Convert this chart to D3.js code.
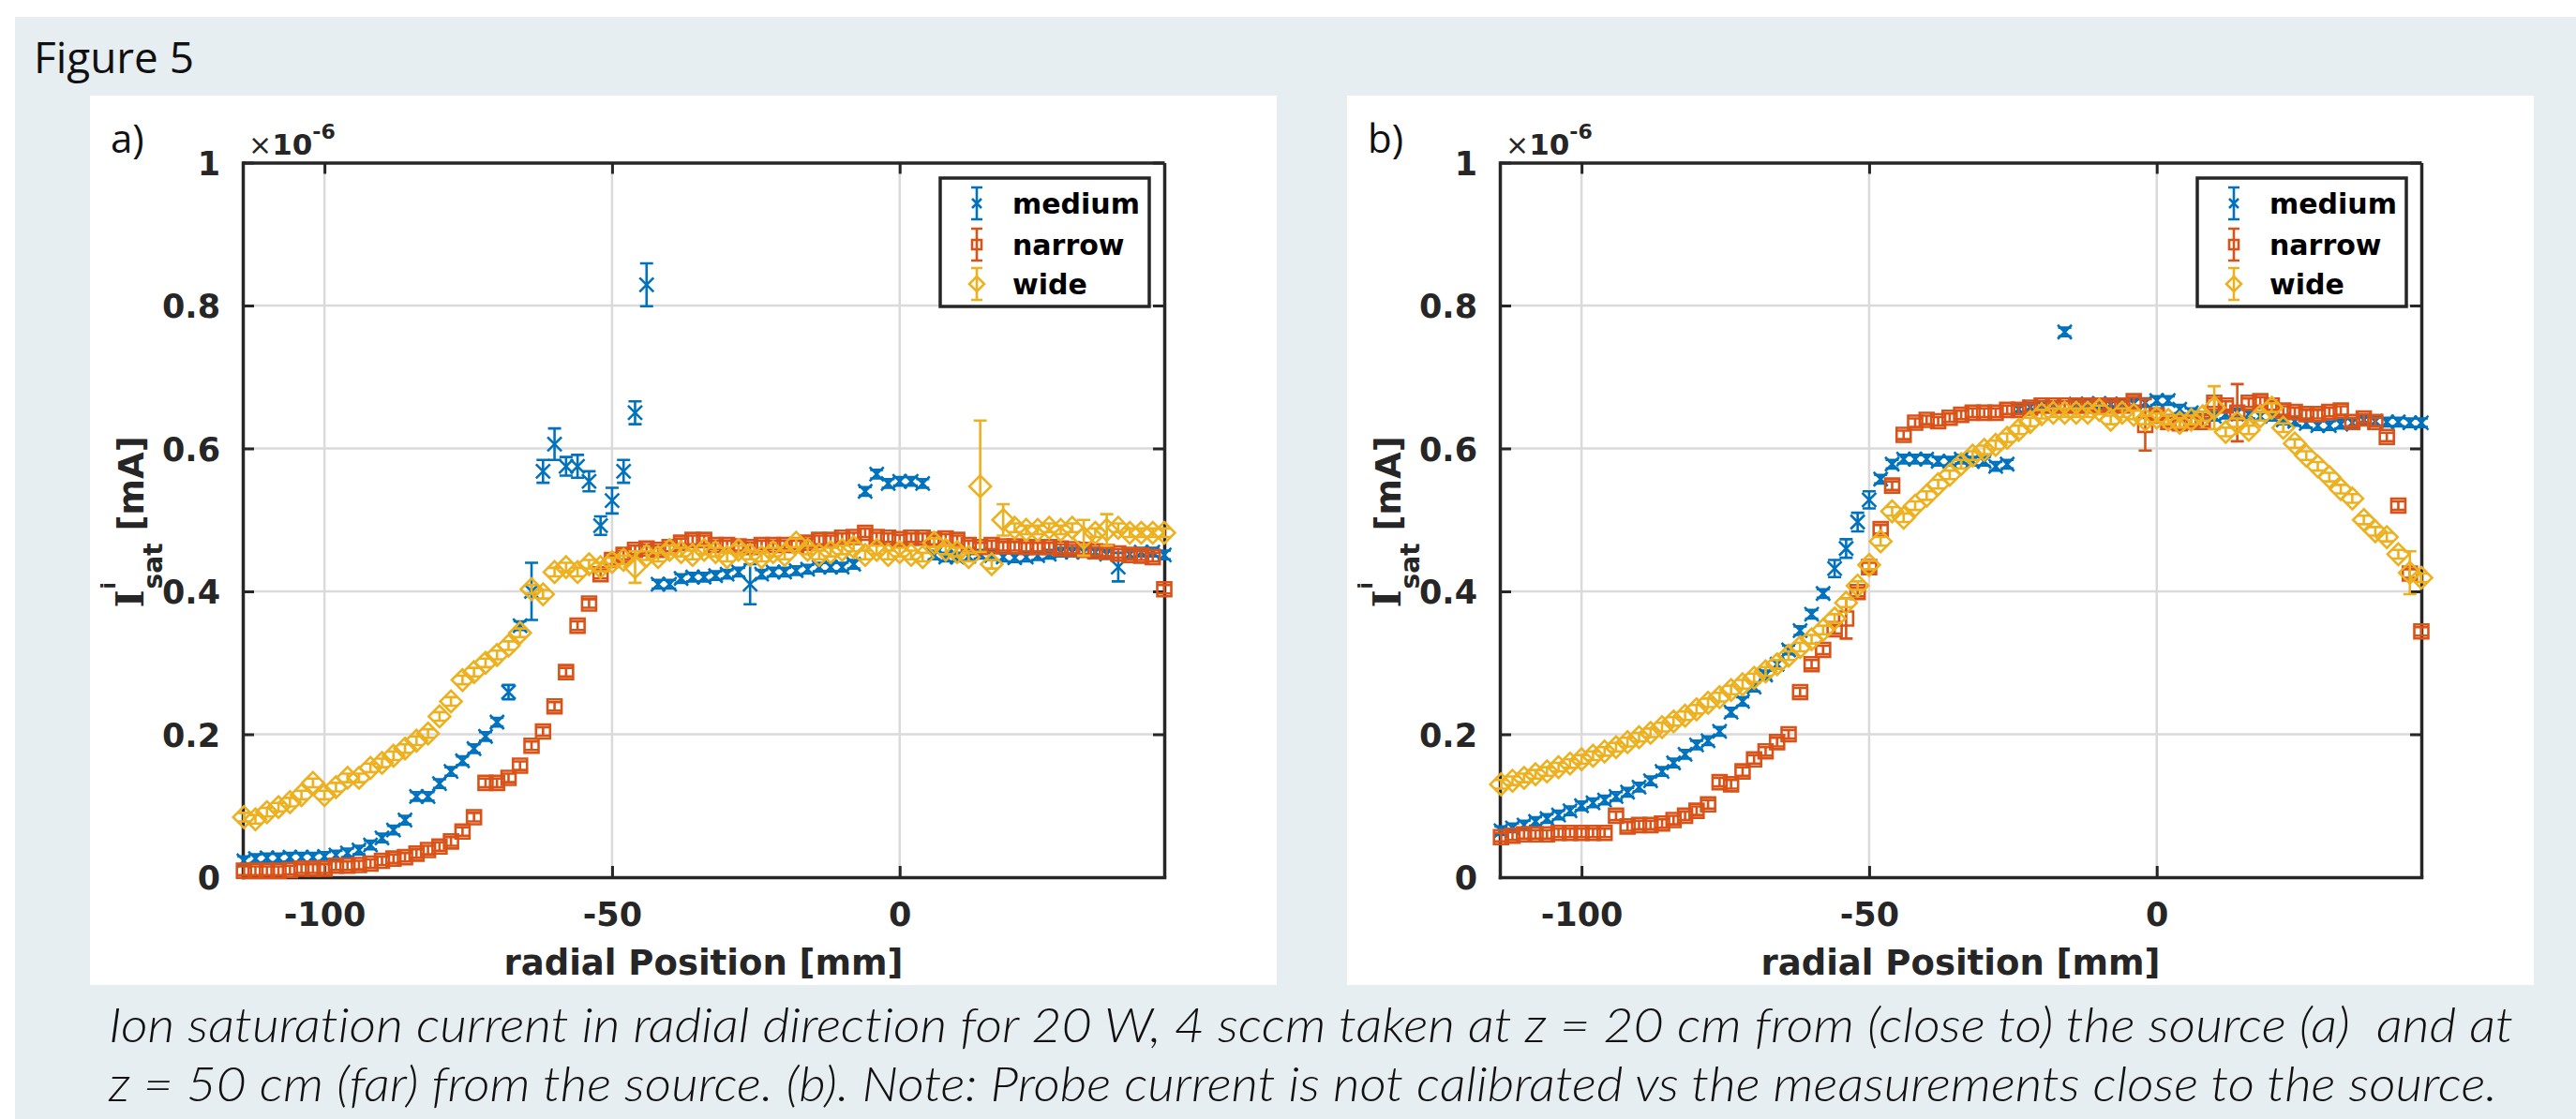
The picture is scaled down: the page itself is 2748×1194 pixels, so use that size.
<!DOCTYPE html>
<html><head><meta charset="utf-8">
<script src="https://cdn.jsdelivr.net/npm/d3@7"></script>
<style>body{margin:0;background:#fff} svg{display:block} text{white-space:pre; font-variant-ligatures:none; font-feature-settings:"liga" 0, "clig" 0, "dlig" 0}</style>
</head><body>
<svg id="chart" width="2748" height="1194"></svg>
<script>
// ---------- data ----------
const positions = [-114,-112,-110,-108,-106,-104,-102,-100,-98,-96,-94,-92,-90,-88,-86,-84,-82,-80,-78,-76,-74,-72,-70,-68,-66,-64,-62,-60,-58,-56,-54,-52,-50,-48,-46,-44,-42,-40,-38,-36,-34,-32,-30,-28,-26,-24,-22,-20,-18,-16,-14,-12,-10,-8,-6,-4,-2,0,2,4,6,8,10,12,14,16,18,20,22,24,26,28,30,32,34,36,38,40,42,44,46];
const seriesNames = ["medium", "narrow", "wide"];
const seriesColors = ["#0072BD", "#D95319", "#EDB120"];
const yTicks = [0, 0.2, 0.4, 0.6, 0.8, 1];
const yTickLabels = ["0", "0.2", "0.4", "0.6", "0.8", "1"];
const xTicks = [-100, -50, 0];
const xTickLabels = ["-100", "-50", "0"];

// panel a (z = 20 cm), values in 1e-6 A
const aMedium = [0.023,0.026,0.027,0.027,0.028,0.028,0.028,0.029, 0.031,0.034,0.038,0.045,0.055,0.066,0.080,0.113, 0.113,0.131,0.148,0.163,0.180,0.197,0.217,0.259, 0.352,0.400,0.568,0.606,0.575,0.575,0.554,0.492, 0.527,0.568,0.650,0.829,0.410,0.410,0.418,0.420, 0.420,0.422,0.424,0.427,0.410,0.424,0.427,0.427, 0.429,0.431,0.434,0.434,0.434,0.438,0.540,0.564, 0.551,0.554,0.554,0.551,0.451,0.448,0.448,0.449, 0.452,0.450,0.448,0.447,0.448,0.450,0.452,0.455, 0.455,0.455,0.455,0.452,0.434,0.452,0.455,0.455, 0.451];
const aNarrow = [0.009,0.009,0.009,0.009,0.010,0.012,0.012,0.012, 0.016,0.016,0.017,0.019,0.023,0.026,0.028,0.033, 0.038,0.043,0.050,0.064,0.084,0.132,0.132,0.139, 0.156,0.184,0.204,0.239,0.287,0.352,0.383,0.424, 0.444,0.451,0.458,0.460,0.458,0.462,0.468,0.472, 0.472,0.465,0.465,0.463,0.462,0.465,0.465,0.465, 0.465,0.468,0.472,0.472,0.475,0.476,0.482,0.476, 0.475,0.473,0.475,0.475,0.472,0.474,0.472,0.465, 0.462,0.465,0.463,0.463,0.462,0.462,0.462,0.460, 0.459,0.458,0.456,0.455,0.453,0.451,0.450,0.448, 0.403];
const aWide = [0.084,0.081,0.091,0.098,0.105,0.115,0.132,0.115, 0.126,0.139,0.139,0.153,0.160,0.170,0.180,0.191, 0.201,0.225,0.246,0.276,0.287,0.300,0.311,0.324, 0.342,0.403,0.396,0.427,0.434,0.427,0.438,0.434, 0.441,0.444,0.434,0.450,0.448,0.458,0.455,0.451, 0.458,0.455,0.448,0.458,0.451,0.448,0.455,0.451, 0.468,0.458,0.451,0.455,0.458,0.462,0.451,0.458, 0.451,0.455,0.451,0.448,0.468,0.458,0.455,0.448, 0.547,0.438,0.500,0.489,0.486,0.486,0.489,0.486, 0.489,0.475,0.482,0.486,0.489,0.482,0.482,0.482, 0.482];

// panel b (z = 50 cm)
const bMedium = [0.065,0.069,0.073,0.078,0.082,0.087,0.093,0.100, 0.104,0.108,0.113,0.119,0.126,0.135,0.148,0.160, 0.172,0.185,0.191,0.204,0.231,0.246,0.266,0.283, 0.298,0.318,0.345,0.368,0.397,0.432,0.460,0.497, 0.528,0.557,0.578,0.585,0.585,0.585,0.582,0.582, 0.585,0.582,0.582,0.575,0.578,0.655,0.658,0.660, 0.660,0.763,0.662,0.662,0.663,0.662,0.662,0.663, 0.664,0.667,0.667,0.655,0.650,0.645,0.645,0.648, 0.650,0.648,0.645,0.645,0.640,0.638,0.635,0.632, 0.632,0.634,0.636,0.640,0.638,0.637,0.637,0.636, 0.636];
const bNarrow = [0.056,0.058,0.060,0.060,0.060,0.062,0.062,0.062, 0.062,0.062,0.086,0.071,0.073,0.073,0.075,0.080, 0.086,0.093,0.102,0.133,0.130,0.148,0.165,0.176, 0.189,0.200,0.259,0.298,0.318,0.347,0.362,0.399, 0.434,0.487,0.548,0.619,0.636,0.640,0.638,0.643, 0.647,0.650,0.650,0.650,0.654,0.654,0.657,0.660, 0.660,0.660,0.660,0.660,0.660,0.660,0.660,0.666, 0.633,0.646,0.637,0.635,0.637,0.637,0.664,0.660, 0.650,0.664,0.666,0.660,0.653,0.651,0.648,0.648, 0.651,0.653,0.637,0.642,0.637,0.616,0.520,0.425, 0.344];
const bWide = [0.130,0.135,0.139,0.144,0.148,0.154,0.159,0.165, 0.170,0.176,0.182,0.189,0.196,0.202,0.210,0.218, 0.226,0.235,0.244,0.252,0.262,0.270,0.279,0.288, 0.298,0.310,0.322,0.333,0.346,0.362,0.384,0.408, 0.437,0.470,0.512,0.503,0.520,0.534,0.550,0.563, 0.578,0.590,0.598,0.605,0.615,0.626,0.637,0.648, 0.650,0.650,0.650,0.650,0.654,0.640,0.650,0.647, 0.640,0.643,0.640,0.636,0.640,0.645,0.657,0.623, 0.636,0.626,0.645,0.657,0.629,0.607,0.590,0.575, 0.560,0.543,0.530,0.500,0.484,0.476,0.452,0.426, 0.419];

// error bars (half-widths); points not listed use defaultErr
const defaultErr = 0.006;
const aMediumErr = {"-68":0.010,"-64":0.040,"-62":0.016,"-60":0.022,"-58":0.013,"-56":0.016,"-54":0.014,"-52":0.013,"-50":0.018,"-48":0.016,"-46":0.016,"-44":0.030,"-26":0.028,"38":0.020};
const aNarrowErr = {};
const aWideErr = {"-46":0.022,"14":0.092,"18":0.022,"32":0.025,"36":0.022};
const bMediumErr = {"-56":0.012,"-54":0.013,"-52":0.013,"-50":0.012};
const bNarrowErr = {"-54":0.028,"-2":0.036,"14":0.040};
const bWideErr = {"10":0.030,"44":0.030};

const panels = [
  {label: "a)", dx: 0, series: [[aMedium, aMediumErr], [aNarrow, aNarrowErr], [aWide, aWideErr]]},
  {label: "b)", dx: 1341, series: [[bMedium, bMediumErr], [bNarrow, bNarrowErr], [bWide, bWideErr]]}
];

// ---------- drawing ----------
const svg = d3.select("#chart");
const AX = "#262626";
const FONT = "DejaVu Sans";

svg.append("rect").attr("x", 16).attr("y", 18).attr("width", 2748 - 16).attr("height", 1194 - 18).attr("fill", "#e7eef1");

svg.append("text").attr("x", 36).attr("y", 78).attr("font-family", "Open Sans").attr("font-size", 46)
  .attr("fill", "#111").attr("textLength", 171).attr("lengthAdjust", "spacingAndGlyphs").text("Figure 5");

function markerPath(type, s) {
  if (type === 0) return `M${-s},${-s}L${s},${s}M${-s},${s}L${s},${-s}`;
  if (type === 1) return `M${-s},${-s}H${s}V${s}H${-s}Z`;
  return `M0,${-s}L${s},0L0,${s}L${-s},0Z`;
}
const markerSize = [7.5, 7.5, 11.5];

panels.forEach(p => {
  const dx = p.dx;
  svg.append("rect").attr("x", 96 + dx).attr("y", 102).attr("width", 1266).attr("height", 949).attr("fill", "#fff");
  svg.append("text").attr("x", 118 + dx).attr("y", 163).attr("font-family", "Open Sans").attr("font-size", 42)
    .attr("fill", "#111").text(p.label);

  const x = d3.scaleLinear().domain([-114.2, 46]).range([259 + dx, 1242 + dx]);
  const y = d3.scaleLinear().domain([0, 1]).range([936, 173.5]);
  const g = svg.append("g");

  // grid
  g.selectAll(".gx").data(xTicks).join("line").attr("x1", d => x(d)).attr("x2", d => x(d))
    .attr("y1", y(0)).attr("y2", y(1)).attr("stroke", "#dadada").attr("stroke-width", 2.5);
  g.selectAll(".gy").data(yTicks.slice(1, -1)).join("line").attr("y1", d => y(d)).attr("y2", d => y(d))
    .attr("x1", x.range()[0]).attr("x2", x.range()[1]).attr("stroke", "#dadada").attr("stroke-width", 2.5);

  // axes with d3 axis generators (inward ticks)
  const tl = 12;
  const bottom = g.append("g").attr("transform", `translate(0,${y(0)})`)
    .call(d3.axisBottom(x).tickValues(xTicks).tickFormat((d, i) => xTickLabels[i]).tickSizeInner(-tl).tickSizeOuter(0).tickPadding(30));
  const top = g.append("g").attr("transform", `translate(0,${y(1)})`)
    .call(d3.axisTop(x).tickValues(xTicks).tickFormat("").tickSizeInner(-tl).tickSizeOuter(0));
  const left = g.append("g").attr("transform", `translate(${x.range()[0]},0)`)
    .call(d3.axisLeft(y).tickValues(yTicks).tickFormat((d, i) => yTickLabels[i]).tickSizeInner(-tl).tickSizeOuter(0).tickPadding(24));
  const right = g.append("g").attr("transform", `translate(${x.range()[1]},0)`)
    .call(d3.axisRight(y).tickValues(yTicks).tickFormat("").tickSizeInner(-tl).tickSizeOuter(0));
  top.selectAll(".tick text").remove();
  right.selectAll(".tick text").remove();
  [bottom, top, left, right].forEach(a => {
    a.select(".domain").attr("stroke", AX).attr("stroke-width", 3.5);
    a.selectAll(".tick line").attr("stroke", AX).attr("stroke-width", 3);
    a.selectAll(".tick text").attr("fill", AX).attr("font-family", FONT).attr("font-weight", "bold").attr("font-size", 35);
  });
  bottom.selectAll(".tick text").attr("dy", 0).attr("y", 52);
  left.selectAll(".tick text").attr("dy", "0.36em");
  bottom.select(".domain").attr("stroke-linecap", "square");
  left.select(".domain").attr("stroke-linecap", "square");

  // exponent label
  const ex = svg.append("text").attr("x", 265 + dx).attr("y", 165).attr("fill", AX).attr("font-family", FONT);
  ex.append("tspan").attr("font-size", 30).text("×");
  ex.append("tspan").attr("font-size", 31).attr("font-weight", "bold").text("10");
  ex.append("tspan").attr("font-size", 22).attr("font-weight", "bold").attr("dy", -17).text("-6");

  // x axis label
  svg.append("text").attr("x", (x.range()[0] + x.range()[1]) / 2).attr("y", 1040).attr("text-anchor", "middle")
    .attr("font-family", FONT).attr("font-weight", "bold").attr("font-size", 37).attr("fill", AX).text("radial Position [mm]");

  // y axis label: I^i_sat [mA], pieces laid out along the rotated baseline
  const yl = svg.append("g").attr("transform", `translate(${153 + dx},557) rotate(-90)`)
    .attr("font-family", FONT).attr("font-weight", "bold").attr("fill", AX);
  const tI = yl.append("text").attr("font-family", "DejaVu Serif").attr("font-size", 41).text("I");
  const tSup = yl.append("text").attr("font-size", 21).text("i");
  const tSub = yl.append("text").attr("font-size", 28).text("sat");
  const tUnit = yl.append("text").attr("font-size", 37).text("[mA]");
  const wI = tI.node().getComputedTextLength();
  const wSub = tSub.node().getComputedTextLength();
  const wUnit = tUnit.node().getComputedTextLength();
  const gap = 13;
  const total = wI + 1 + wSub + gap + wUnit;
  const x0 = -total / 2;
  tI.attr("x", x0).attr("y", 0);
  tSup.attr("x", x0 + wI + 1).attr("y", -30);
  tSub.attr("x", x0 + wI + 1).attr("y", 20);
  tUnit.attr("x", x0 + wI + 1 + wSub + gap).attr("y", 0);

  // data series
  p.series.forEach(([vals, errs], si) => {
    const col = seriesColors[si];
    const pts = positions.map((px, i) => ({x: px, v: vals[i], e: (errs[String(px)] !== undefined ? errs[String(px)] : defaultErr)}));
    const sg = svg.append("g").attr("stroke", col).attr("stroke-width", 2.6).attr("fill", "none");
    const cw = 7;
    sg.selectAll("path.eb").data(pts).join("path").attr("class", "eb")
      .attr("d", d => {
        const cx = x(d.x), y1 = y(d.v - d.e), y2 = y(d.v + d.e);
        return `M${cx},${y1}V${y2}M${cx - cw},${y1}H${cx + cw}M${cx - cw},${y2}H${cx + cw}`;
      });
    sg.selectAll("path.mk").data(pts).join("path").attr("class", "mk")
      .attr("transform", d => `translate(${x(d.x)},${y(d.v)})`)
      .attr("d", markerPath(si, markerSize[si]));
  });

  // legend
  const lg = svg.append("g");
  lg.append("rect").attr("x", 1003 + dx).attr("y", 190).attr("width", 223).attr("height", 137)
    .attr("fill", "#fff").attr("stroke", AX).attr("stroke-width", 3.5);
  const rows = [217, 261, 303];
  seriesNames.forEach((nm, si) => {
    const cy = rows[si], cx = 1042 + dx, col = seriesColors[si];
    lg.append("path").attr("d", `M${cx},${cy - 17}V${cy + 17}M${cx - 6},${cy - 17}H${cx + 6}M${cx - 6},${cy + 17}H${cx + 6}`)
      .attr("stroke", col).attr("stroke-width", 2.6).attr("fill", "none");
    lg.append("path").attr("transform", `translate(${cx},${cy})`).attr("d", markerPath(si, si === 2 ? 8 : 5))
      .attr("stroke", col).attr("stroke-width", 2.6).attr("fill", "none");
    lg.append("text").attr("x", 1080 + dx).attr("y", cy + 11).attr("font-family", FONT).attr("font-weight", "bold")
      .attr("font-size", 30).attr("fill", "#000").text(nm);
  });
});

// caption
const caption = [
  "Ion saturation current in radial direction for 20 W, 4 sccm taken at z = 20 cm from (close to) the source (a)  and at",
  "z = 50 cm (far) from the source. (b). Note: Probe current is not calibrated vs the measurements close to the source."
];
const capLen = [2565, 2548];
const capY = [1112, 1175];
caption.forEach((t, i) => {
  svg.append("text").attr("x", 116).attr("y", capY[i]).attr("font-family", "Lato").attr("font-style", "italic")
    .attr("font-weight", 300).attr("font-size", 51).attr("fill", "#111")
    .attr("textLength", capLen[i]).attr("lengthAdjust", "spacingAndGlyphs").text(t);
});
</script>
</body></html>
